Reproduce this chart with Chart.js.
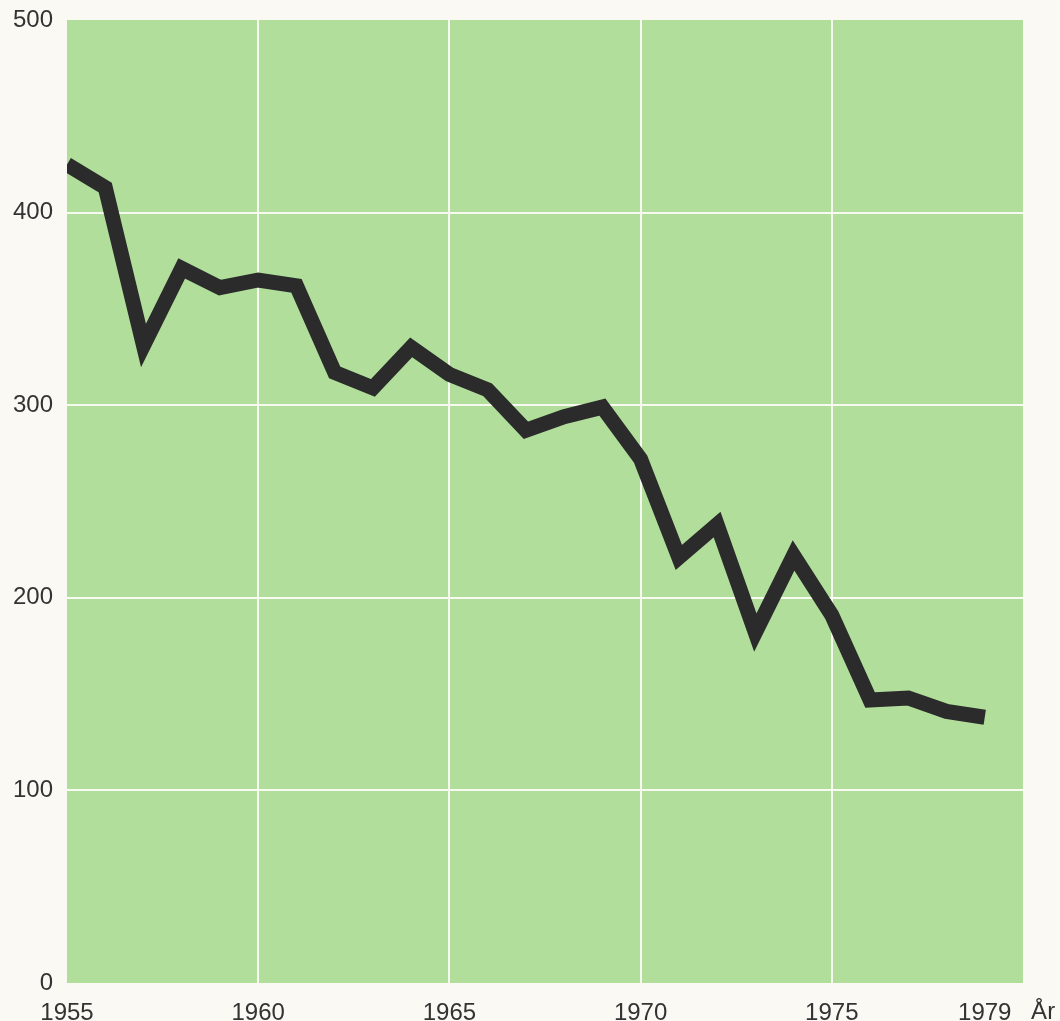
<!DOCTYPE html>
<html>
<head>
<meta charset="utf-8">
<script src="https://cdn.jsdelivr.net/npm/chart.js@4/dist/chart.umd.min.js"></script>
<style>
  html, body { margin: 0; padding: 0; background: #faf9f3; }
  #wrap { width: 1060px; height: 1021px; }
</style>
</head>
<body>
<div id="wrap"><canvas id="chart"></canvas></div>
<script>
// Årtal och värden
const years = [1955, 1956, 1957, 1958, 1959, 1960, 1961, 1962, 1963, 1964, 1965, 1966,
  1967, 1968, 1969, 1970, 1971, 1972, 1973, 1974, 1975, 1976, 1977, 1978, 1979];
const values = [425, 413, 331, 371, 361, 365, 362, 317, 309, 330, 316, 308,
  287, 294, 299, 272, 221, 238, 182, 222, 191, 147, 148, 141, 138];
const xTicks = [1955, 1960, 1965, 1970, 1975, 1979];
const xGrid = [1960, 1965, 1970, 1975];
const yTicks = [0, 100, 200, 300, 400, 500];
const axisTitle = 'År';

const textColor = '#333333';
const fontFamily = '"Liberation Sans", Arial, sans-serif';

// Grön bakgrund i plottytan
const plotBg = {
  id: 'plotBg',
  beforeDraw(chart) {
    const { ctx, chartArea: a } = chart;
    ctx.save();
    ctx.fillStyle = '#b1df9b';
    ctx.fillRect(a.left, a.top, a.right - a.left, a.bottom - a.top);
    ctx.restore();
  }
};

// "År" till höger om sista årtalet
const yearLabel = {
  id: 'yearLabel',
  afterDraw(chart) {
    const { ctx } = chart;
    const xs = chart.scales.x;
    const x = xs.getPixelForValue(1980.5);
    ctx.save();
    ctx.font = '24px ' + fontFamily;
    ctx.fillStyle = textColor;
    ctx.textAlign = 'center';
    ctx.textBaseline = 'middle';
    ctx.fillText(axisTitle, x + 1, 1012);
    ctx.restore();
  }
};

new Chart(document.getElementById('chart'), {
  type: 'line',
  data: {
    datasets: [{
      data: years.map((y, i) => ({ x: y, y: values[i] })),
      borderColor: '#2b2b2b',
      borderWidth: 15,
      borderJoinStyle: 'miter',
      borderCapStyle: 'butt',
      pointRadius: 0,
      fill: false,
      tension: 0
    }]
  },
  options: {
    responsive: true,
    maintainAspectRatio: false,
    animation: false,
    layout: { padding: { top: 20, right: 37, left: 0, bottom: 0 } },
    plugins: {
      legend: { display: false },
      tooltip: { enabled: false }
    },
    scales: {
      x: {
        type: 'linear',
        min: 1955,
        max: 1980,
        afterBuildTicks: (axis) => { axis.ticks = xTicks.map(v => ({ value: v })); },
        afterFit: (axis) => {
          axis.height = 38;
          axis.paddingLeft = 0;
          axis.paddingRight = 0;
        },
        border: { display: false },
        grid: {
          drawTicks: false,
          lineWidth: 2,
          color: (c) => xGrid.includes(c.tick && c.tick.value) ? '#f6faf0' : 'rgba(0,0,0,0)'
        },
        ticks: {
          padding: 16,
          maxRotation: 0,
          autoSkip: false,
          color: textColor,
          font: { family: fontFamily, size: 24 },
          callback: (v) => String(v)
        }
      },
      y: {
        min: 0,
        max: 500,
        afterBuildTicks: (axis) => { axis.ticks = yTicks.map(v => ({ value: v })); },
        afterFit: (axis) => {
          axis.width = 67;
          axis.paddingTop = 0;
          axis.paddingBottom = 0;
        },
        border: { display: false },
        grid: {
          drawTicks: false,
          lineWidth: 2,
          color: (c) => (c.tick && c.tick.value > 0 && c.tick.value < 500) ? '#f6faf0' : 'rgba(0,0,0,0)'
        },
        ticks: {
          padding: 14,
          color: textColor,
          font: { family: fontFamily, size: 24 },
          callback: (v) => String(v)
        }
      }
    }
  },
  plugins: [plotBg, yearLabel]
});
</script>
</body>
</html>
